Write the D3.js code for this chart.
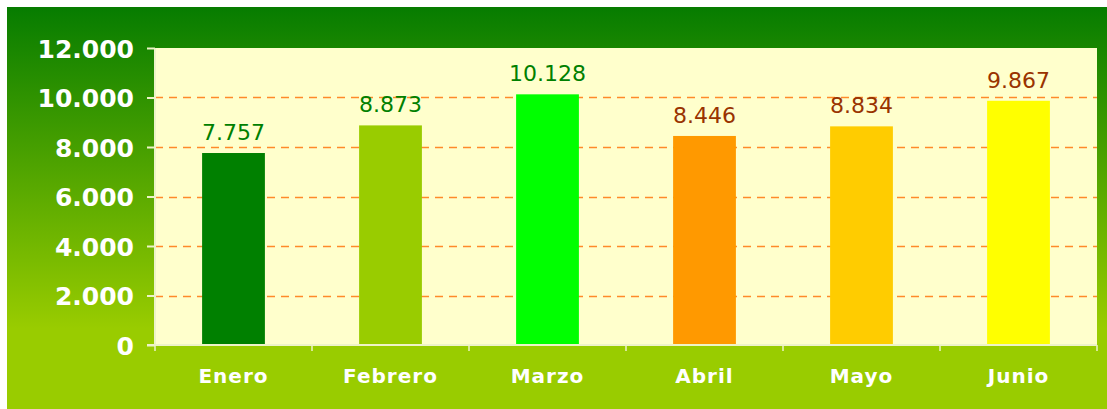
<!DOCTYPE html>
<html><head><meta charset="utf-8">
<script src="https://cdn.jsdelivr.net/npm/d3@7"></script>
<style>html,body{margin:0;padding:0;background:#fff;}svg{display:block;}</style>
</head><body>
<svg id="chart" width="1107" height="409"></svg>
<script>
const categories = ["Enero","Febrero","Marzo","Abril","Mayo","Junio"];
const values = [7757, 8873, 10128, 8446, 8834, 9867];
const barColors = ["#008000","#99CC00","#00FF00","#FF9900","#FFCC00","#FFFF00"];
const labelColors = ["#008000","#008000","#008000","#993300","#993300","#993300"];
const yTicks = [0,2000,4000,6000,8000,10000,12000];

const fmt = v => d3.format(",")(v).replace(/,/g, ".");
const svg = d3.select("#chart");
const W = 1107, H = 409;
const m = {left:155, right:1097, top:48, bottom:345};

const defs = svg.append("defs");
const g = defs.append("linearGradient").attr("id","bg").attr("x1",0).attr("y1",0).attr("x2",0).attr("y2",1);
g.append("stop").attr("offset","0%").attr("stop-color","#067c00");
g.append("stop").attr("offset","80%").attr("stop-color","#99cc00");
g.append("stop").attr("offset","100%").attr("stop-color","#99cc00");

svg.append("rect").attr("x",7).attr("y",7).attr("width",W-7).attr("height",H-7).attr("fill","url(#bg)");

const x = d3.scaleBand().domain(categories).range([m.left, m.right]).paddingInner(0.6).paddingOuter(0.3);
const y = d3.scaleLinear().domain([0,12000]).range([m.bottom, m.top]);

svg.append("rect").attr("x",m.left).attr("y",m.top).attr("width",m.right-m.left).attr("height",m.bottom-m.top).attr("fill","#ffffcc");

// grid
svg.append("g").selectAll("line").data(yTicks.filter(t=>t>0 && t<12000)).join("line")
  .attr("x1",m.left).attr("x2",m.right).attr("y1",d=>Math.round(y(d))+0.5).attr("y2",d=>Math.round(y(d))+0.5)
  .attr("stroke","#ff8a2a").attr("stroke-width",1.3).attr("stroke-dasharray","8,6");

// bars
svg.append("g").selectAll("rect").data(values).join("rect")
  .attr("x",(d,i)=>x(categories[i])).attr("width",x.bandwidth())
  .attr("y",d=>y(d)).attr("height",d=>y(0)-y(d))
  .attr("fill",(d,i)=>barColors[i]);

// data labels
svg.append("g").selectAll("text").data(values).join("text")
  .attr("x",(d,i)=>x(categories[i])+x.bandwidth()/2).attr("y",d=>y(d)-13)
  .attr("text-anchor","middle").attr("font-family","DejaVu Sans, Verdana, sans-serif")
  .attr("font-size",22).attr("fill",(d,i)=>labelColors[i]).text(d=>fmt(d));

// y axis
const ya = svg.append("g").attr("transform",`translate(${m.left},0)`)
  .call(d3.axisLeft(y).tickValues(yTicks).tickSize(8).tickPadding(13).tickFormat(fmt));
ya.select(".domain").attr("stroke","#eef3c8").attr("stroke-width",2).attr("d",`M0,${m.top}V${m.bottom}`);
ya.selectAll(".tick line").attr("stroke","#eef3c8").attr("stroke-width",2);
ya.selectAll("text").attr("fill","#fff").attr("font-family","DejaVu Sans, Verdana, sans-serif")
  .attr("font-weight","bold").attr("font-size",25).attr("dy","0.36em");

// x axis
const step = (m.right-m.left)/categories.length;
const xa = svg.append("g").attr("transform",`translate(0,${m.bottom})`);
xa.append("line").attr("x1",m.left-8).attr("x2",m.right).attr("y1",0).attr("y2",0).attr("stroke","#eef3c8").attr("stroke-width",2);
xa.selectAll("line.tk").data(d3.range(categories.length+1)).join("line").attr("class","tk")
  .attr("x1",i=>m.left+i*step).attr("x2",i=>m.left+i*step).attr("y1",0).attr("y2",6)
  .attr("stroke","#eef3c8").attr("stroke-width",1.5);
xa.selectAll("text").data(categories).join("text")
  .attr("x",d=>x(d)+x.bandwidth()/2).attr("y",38).attr("text-anchor","middle")
  .attr("fill","#fff").attr("font-family","DejaVu Sans, Verdana, sans-serif")
  .attr("font-weight","bold").attr("font-size",20).attr("letter-spacing","1px").text(d=>d);
</script>
</body></html>
